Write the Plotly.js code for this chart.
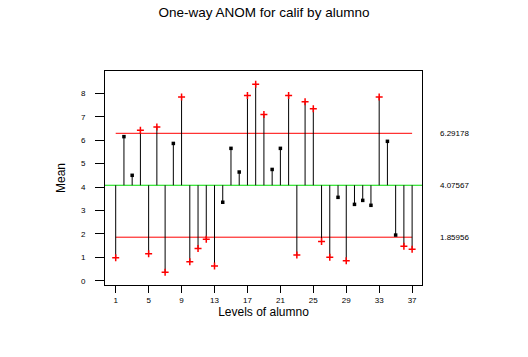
<!DOCTYPE html>
<html>
<head>
<meta charset="utf-8">
<script src="https://cdn.plot.ly/plotly-3.0.1.min.js"></script>
<style>html,body{margin:0;padding:0;background:#fff;}#chart{width:528px;height:357px;}</style>
</head>
<body>
<div id="chart"></div>
<script>
// Levels of alumno
var levels = [1,2,3,4,5,6,7,8,9,10,11,12,13,14,15,16,17,18,19,20,21,22,23,24,25,26,27,28,29,30,31,32,33,34,35,36,37];
// Group means
var means = [0.98,6.15,4.50,6.42,1.15,6.56,0.36,5.86,7.84,0.81,1.38,1.77,0.63,3.35,5.65,4.64,7.90,8.38,7.09,4.75,5.65,7.91,1.10,7.64,7.34,1.68,1.00,3.56,0.85,3.26,3.43,3.22,7.84,5.95,1.95,1.47,1.34];
var centerLine = 4.07567;
var upperLimit = 6.29178;
var lowerLimit = 1.85956;
var limitLabels = ['6.29178','4.07567','1.85956'];
var xTickVals = [1,5,9,13,17,21,25,29,33,37];
var yTickVals = [0,1,2,3,4,5,6,7,8];

var stemX = [], stemY = [];
levels.forEach(function(l,i){ stemX.push(l,l,null); stemY.push(centerLine, means[i], null); });
var inX=[],inY=[],outX=[],outY=[];
levels.forEach(function(l,i){
  if (means[i] > upperLimit || means[i] < lowerLimit) { outX.push(l); outY.push(means[i]); }
  else { inX.push(l); inY.push(means[i]); }
});
var first = levels[0], last = levels[levels.length-1];

var traces = [
  {x:[first,last], y:[upperLimit,upperLimit], mode:'lines', line:{color:'#ff0000', width:1}, hoverinfo:'skip'},
  {x:[first,last], y:[lowerLimit,lowerLimit], mode:'lines', line:{color:'#ff0000', width:1}, hoverinfo:'skip'},
  {x:stemX, y:stemY, mode:'lines', line:{color:'#000', width:1}, connectgaps:false, hoverinfo:'skip'},
  {x:inX, y:inY, mode:'markers', marker:{symbol:'square', size:3.5, color:'#000'}},
  {x:outX, y:outY, mode:'markers', marker:{symbol:'cross-thin', size:5, line:{color:'#ff0000', width:1.5}, color:'#ff0000'}}
];

var layout = {
  width:528, height:357,
  margin:{l:105, r:106, t:71, b:72},
  paper_bgcolor:'#fff', plot_bgcolor:'#fff',
  showlegend:false,
  font:{family:'Liberation Sans, Arial, sans-serif', color:'#000', size:8},
  title:{text:'One-way ANOM for calif by alumno', x:0.5, xanchor:'center', y:0.965, yanchor:'middle', font:{size:13.5, color:'#000'}},
  xaxis:{range:[-0.3,38.2], tickvals:xTickVals, ticks:'outside', ticklen:7, tickwidth:1, tickcolor:'#000',
    showgrid:false, zeroline:false, showline:true, linecolor:'#000', linewidth:1, mirror:true,
    tickfont:{size:8}, title:{text:'Levels of alumno', font:{size:12}, standoff:4}},
  yaxis:{range:[-0.18,8.95], tickvals:yTickVals, ticks:'outside', ticklen:9, tickwidth:1, tickcolor:'#000',
    ticklabelstandoff:8,
    showgrid:false, zeroline:false, showline:true, linecolor:'#000', linewidth:1, mirror:true,
    tickfont:{size:8}, title:{text:'Mean', font:{size:12}, standoff:12}},
  shapes:[{type:'line', xref:'paper', x0:0, x1:1, yref:'y', y0:centerLine, y1:centerLine, line:{color:'#00dd00', width:1}, layer:'below'}],
  annotations:[
    {xref:'paper', x:1, xanchor:'left', xshift:16, yref:'y', y:upperLimit, text:limitLabels[0], showarrow:false, font:{size:8}},
    {xref:'paper', x:1, xanchor:'left', xshift:16, yref:'y', y:centerLine, text:limitLabels[1], showarrow:false, font:{size:8}},
    {xref:'paper', x:1, xanchor:'left', xshift:16, yref:'y', y:lowerLimit, text:limitLabels[2], showarrow:false, font:{size:8}}
  ]
};
Plotly.newPlot('chart', traces, layout, {displayModeBar:false, staticPlot:true});
</script>
</body>
</html>
